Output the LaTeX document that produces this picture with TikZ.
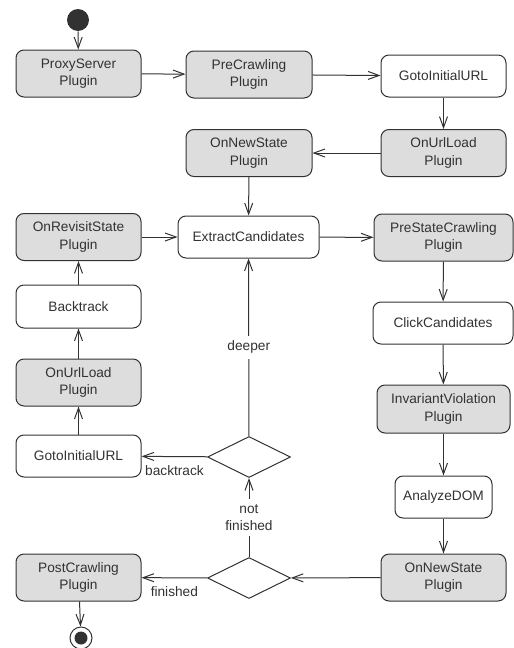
\documentclass[tikz,border=0pt]{standalone}
\usepackage{fontspec}
\setmainfont{Liberation Sans}
\usetikzlibrary{shapes.geometric, arrows.meta}
\definecolor{plugingray}{RGB}{221,221,221}
\definecolor{linegray}{RGB}{50,50,50}
\tikzset{>={Straight Barb[length=11pt,width=8pt]}}

\begin{document}
\begin{tikzpicture}[x=1pt, y=-1pt, line width=1pt, color=linegray,
  every node/.style={font=\fontsize{13.7}{17.3}\selectfont},
  act/.style={draw, rounded corners=8pt, align=center, minimum width=125pt, minimum height=42pt, inner sep=0pt},
  plug/.style={act, fill=plugingray, minimum height=47pt},
  branch/.style={draw, diamond, minimum width=83pt, minimum height=41pt, inner sep=0pt},
  guard/.style={fill=white, align=center, inner sep=5pt}]
    \useasboundingbox (0,0) rectangle (514,648);
    \node[circle, fill, minimum size=22pt, inner sep=0pt] (start) at (78,20) {};
    \node[plug] (proxy) at (78.5,73.5) {ProxyServer\\Plugin};
    \node[plug, minimum width=126pt] (precrawl) at (249,74.5) {PreCrawling\\Plugin};
    \node[act] (gotoA) at (443.5,76) {GotoInitialURL};
    \node[plug] (urlloadA) at (443.5,153) {OnUrlLoad\\Plugin};
    \node[plug, minimum width=126pt] (newstateA) at (249,153) {OnNewState\\Plugin};
    \node[plug] (revisit) at (78.5,237) {OnRevisitState\\Plugin};
    \node[act, minimum width=141pt] (extract) at (248.5,237) {ExtractCandidates};
    \node[plug, minimum width=139pt] (prestate) at (443.5,237.5) {PreStateCrawling\\Plugin};
    \node[act, minimum height=43pt] (backtrack) at (78.5,306.5) {Backtrack};
    \node[act, minimum width=140pt] (click) at (443,323) {ClickCandidates};
    \node[plug] (urlloadB) at (78.5,382.5) {OnUrlLoad\\Plugin};
    \node[plug, minimum width=133pt, minimum height=48pt] (invariant) at (443.5,409) {InvariantViolation\\Plugin};
    \node[act] (gotoB) at (78.5,456) {GotoInitialURL};
    \node[branch] (deep) at (249,457) {};
    \node[act, minimum width=97pt] (analyze) at (443.5,497) {AnalyzeDOM};
    \node[branch] (done) at (249,578) {};
    \node[plug] (postcrawl) at (78.5,577.5) {PostCrawling\\Plugin};
    \node[plug] (newstateB) at (443.5,577.5) {OnNewState\\Plugin};
    \node[circle, draw, minimum size=22pt, inner sep=0pt] (stop) at (81,638) {};
    \node[circle, fill, minimum size=13pt, inner sep=0pt] (stopdot) at (stop) {};
    \draw[->] (start) -- (proxy);
    \draw[->] (proxy) -- (precrawl);
    \draw[->] (precrawl) -- (gotoA);
    \draw[->] (gotoA) -- (urlloadA);
    \draw[->] (urlloadA) -- (newstateA);
    \draw[->] (newstateA) -- (extract);
    \draw[->] (revisit) -- (extract);
    \draw[->] (extract) -- (prestate);
    \draw[->] (prestate) -- (click);
    \draw[->] (click) -- (invariant);
    \draw[->] (invariant) -- (analyze);
    \draw[->] (analyze) -- (newstateB);
    \draw[->] (newstateB) -- (done);
    \draw[->] (done) -- (postcrawl) node[midway, below=5pt]{finished};
    \draw[->] (done) -- (deep) node[midway, guard]{not\\finished};
    \draw[->] (deep) -- (extract) node[midway, guard]{deeper};
    \draw[->] (deep) -- (gotoB) node[midway, below=5pt]{backtrack};
    \draw[->] (gotoB) -- (urlloadB);
    \draw[->] (urlloadB) -- (backtrack);
    \draw[->] (backtrack) -- (revisit);
    \draw[->] (postcrawl) -- (stop);
\end{tikzpicture}
\end{document}
